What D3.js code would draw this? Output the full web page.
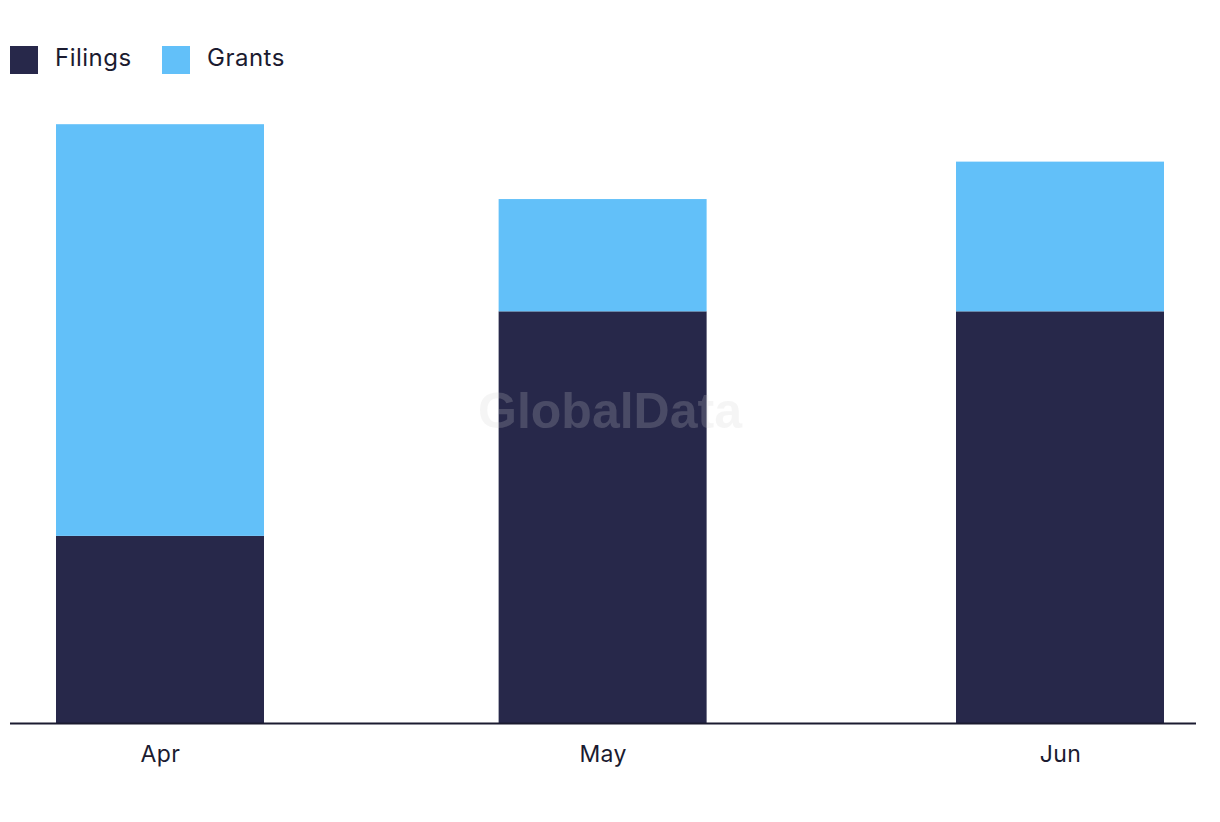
<!DOCTYPE html>
<html>
<head>
<meta charset="utf-8">
<script src="https://cdn.jsdelivr.net/npm/d3@7"></script>
<style>
  html, body { margin: 0; padding: 0; background: #fff; }
  svg { display: block; }
  text { font-family: Inter, "Noto Sans", sans-serif; fill: #1b1b30; }
</style>
</head>
<body>
<svg id="chart" width="1220" height="822"></svg>
<script>
const months = ["2023-04-01", "2023-05-01", "2023-06-01"];
const tickLabels = ["Apr", "May", "Jun"];
const filings = [5, 11, 11];
const grants = [11, 3, 4];
const seriesNames = ["Filings", "Grants"];
const seriesColors = ["#27284a", "#62c0f9"];

const svg = d3.select("#chart");
const parse = d3.utcParse("%Y-%m-%d");
const dates = months.map(parse);

const baseY = 723;
const x = d3.scaleUtc().domain([dates[0], dates[2]]).range([160, 1060]);
const y = d3.scaleLinear().domain([0, 16]).range([baseY, 124.2]);
const barW = 208;

const rows = dates.map((d, i) => ({ date: d, Filings: filings[i], Grants: grants[i] }));
const stack = d3.stack().keys(seriesNames)(rows);

svg.append("g").selectAll("g").data(stack).join("g")
  .attr("fill", (d, i) => seriesColors[i])
  .selectAll("rect").data(d => d).join("rect")
  .attr("x", d => x(d.data.date) - barW / 2)
  .attr("width", barW)
  .attr("y", d => y(d[1]))
  .attr("height", d => y(d[0]) - y(d[1]));

// watermark
svg.append("text")
  .attr("x", 610).attr("y", 428)
  .attr("text-anchor", "middle")
  .style("font-family", "'Liberation Sans', Arial, sans-serif")
  .style("font-weight", "bold")
  .style("font-size", "50px")
  .style("fill", "#d0d0d0")
  .style("fill-opacity", 0.21)
  .text("GlobalData");

// baseline
svg.append("line")
  .attr("x1", 10).attr("x2", 1196)
  .attr("y1", baseY + 0.5).attr("y2", baseY + 0.5)
  .attr("stroke", "#1b1b30").attr("stroke-width", 2);

// x axis labels
const axis = d3.axisBottom(x)
  .tickValues(dates)
  .tickFormat((d, i) => tickLabels[i])
  .tickSize(0).tickPadding(0);
const gx = svg.append("g").attr("transform", `translate(0,${baseY})`).call(axis);
gx.select(".domain").remove();
gx.selectAll("text")
  .attr("dy", null)
  .attr("y", 39)
  .style("font-family", "Inter, 'Noto Sans', sans-serif")
  .style("font-size", "23px")
  .style("letter-spacing", "0.4px")
  .style("fill", "#1b1b30");

// legend
const legendX = [10, 162];
const lg = svg.append("g").selectAll("g").data(seriesNames).join("g")
  .attr("transform", (d, i) => `translate(${legendX[i]},46)`);
lg.append("rect").attr("width", 28).attr("height", 28).attr("fill", (d, i) => seriesColors[i]);
lg.append("text").attr("x", 45).attr("y", 20)
  .style("font-size", "24px")
  .style("letter-spacing", "0.5px")
  .text(d => d);
</script>
</body>
</html>
